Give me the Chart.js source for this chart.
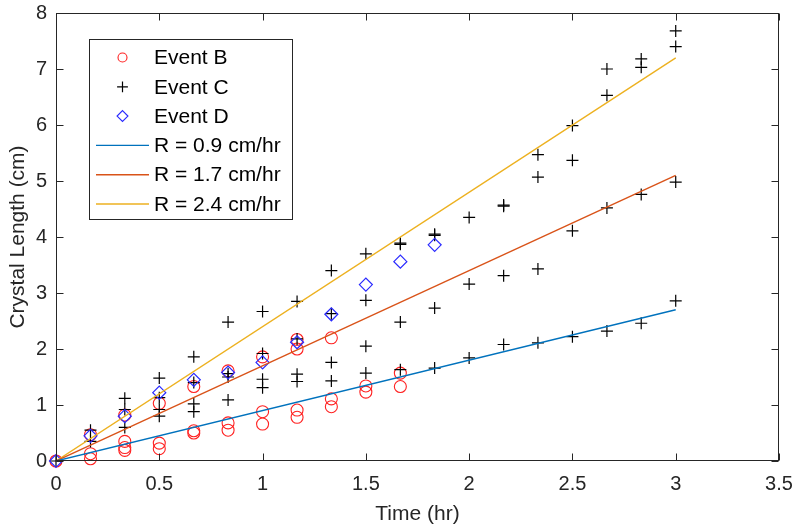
<!DOCTYPE html>
<html>
<head>
<meta charset="utf-8">
<title>Crystal Length vs Time</title>
<script src="https://cdn.jsdelivr.net/npm/chart.js@4.4.1/dist/chart.umd.min.js"></script>
<style>
  html, body { margin: 0; padding: 0; background: #fff; }
  #chart { display: block; }
</style>
</head>
<body>
<canvas id="chart" width="795" height="530"></canvas>
<script>
// sample times (hr), one entry per measurement step
const sampleTimes = [0, 0.167, 0.333, 0.5, 0.667, 0.833, 1, 1.167, 1.333, 1.5, 1.667, 1.833, 2, 2.167, 2.333, 2.5, 2.667, 2.833, 3];

// crystal lengths (cm) grouped by sample time index
const eventB = [
  [0], [0.47, 0.13, 0.04], [0.82, 0.35, 0.24, 0.19], [1.03, 0.32, 0.22],
  [1.33, 0.54, 0.50], [1.61, 0.68, 0.55], [1.86, 0.88, 0.66], [2.17, 2.0, 0.91, 0.78],
  [2.2, 1.11, 0.97], [1.34, 1.23], [1.57, 1.33]
];
const eventC = [
  [0], [0.55, 0.35], [1.12, 0.92, 0.6], [1.48, 1.13, 0.92, 0.8],
  [1.86, 1.40, 1.02, 0.88], [2.48, 1.56, 1.50, 1.09], [2.67, 1.92, 1.46, 1.31], [2.85, 2.18, 1.55, 1.42],
  [3.40, 2.63, 1.76, 1.43], [3.70, 2.87, 2.05, 1.57], [3.87, 3.89, 2.48, 1.63], [4.03, 4.05, 2.73, 1.66],
  [4.35, 3.16, 1.84], [4.55, 4.57, 3.31, 2.08], [5.47, 5.07, 3.43, 2.11], [5.99, 5.37, 4.11, 2.22],
  [7.0, 6.53, 4.52, 2.32], [7.18, 7.03, 4.76, 2.46], [7.68, 7.40, 4.98, 2.86]
];
const eventD = [0, 0.45, 0.8, 1.22, 1.45, 1.58, 1.76, 2.12, 2.62, 3.15, 3.56, 3.86];

// fitted growth lines
const fitTimes = [0, 3];
const fitSlow = [0, 2.7];
const fitMid = [0, 5.1];
const fitFast = [0, 7.2];
const fitLabels = ['R = 0.9 cm/hr', 'R = 1.7 cm/hr', 'R = 2.4 cm/hr'];

const xTicks = [0, 0.5, 1, 1.5, 2, 2.5, 3, 3.5];
const yTicks = [0, 1, 2, 3, 4, 5, 6, 7, 8];

const axisColor = '#262626';
const fontFamily = '"Liberation Sans", Arial, Helvetica, sans-serif';

function groupedPoints(groups) {
  const pts = [];
  groups.forEach((vals, i) => {
    vals.forEach(v => pts.push({ x: sampleTimes[i], y: v }));
  });
  return pts;
}

function linePoints(values) {
  return fitTimes.map((t, i) => ({ x: t, y: values[i] }));
}

function markerSet(label, data, style, color, width, radius, order) {
  return {
    label, data, order,
    showLine: false,
    clip: false,
    pointStyle: style,
    pointRadius: radius,
    pointBorderColor: color,
    pointBackgroundColor: 'rgba(0,0,0,0)',
    pointBorderWidth: width,
    borderColor: color,
    backgroundColor: 'rgba(0,0,0,0)'
  };
}

function fitSet(label, values, color) {
  return {
    label,
    data: linePoints(values),
    order: 0,
    showLine: true,
    pointRadius: 0,
    borderColor: color,
    backgroundColor: color,
    borderWidth: 1.4,
    fill: false
  };
}

// legend marker shapes (drawn small, like the reference legend)
function drawMarker(ctx, style, x, y, r) {
  ctx.beginPath();
  if (style === 'circle') {
    ctx.arc(x, y, r, 0, Math.PI * 2);
  } else if (style === 'cross') {
    ctx.moveTo(x - r, y); ctx.lineTo(x + r, y);
    ctx.moveTo(x, y - r); ctx.lineTo(x, y + r);
  } else if (style === 'rectRot') {
    ctx.moveTo(x, y - r); ctx.lineTo(x + r, y);
    ctx.lineTo(x, y + r); ctx.lineTo(x - r, y);
    ctx.closePath();
  }
  ctx.stroke();
}

// keep the plot box fixed: no extra room for edge labels
function fixPadding(s) {
  s.paddingLeft = 0; s.paddingRight = 0;
  s.paddingTop = 0; s.paddingBottom = 0;
}

const frameAndLegend = {
  id: 'frameAndLegend',
  afterDatasetsDraw(chart) {
    const { ctx, chartArea: a, scales } = chart;
    const L = Math.round(a.left) + 0.5, R = Math.round(a.right) - 0.5;
    const T = Math.round(a.top) + 0.5, B = Math.round(a.bottom) - 0.5;
    const tickLen = 7;

    ctx.save();
    ctx.strokeStyle = axisColor;
    ctx.lineWidth = 1;
    ctx.strokeRect(L, T, R - L, B - T);

    // inward ticks on all four sides
    ctx.beginPath();
    scales.x.ticks.forEach(t => {
      const px = Math.round(scales.x.getPixelForValue(t.value)) + 0.5;
      ctx.moveTo(px, B); ctx.lineTo(px, B - tickLen);
      ctx.moveTo(px, T); ctx.lineTo(px, T + tickLen);
    });
    scales.y.ticks.forEach(t => {
      const py = Math.round(scales.y.getPixelForValue(t.value)) + 0.5;
      ctx.moveTo(L, py); ctx.lineTo(L + tickLen, py);
      ctx.moveTo(R, py); ctx.lineTo(R - tickLen, py);
    });
    ctx.stroke();

    // legend box
    const box = { x: 89.5, y: 39.5, w: 203, h: 180 };
    ctx.fillStyle = '#fff';
    ctx.fillRect(box.x, box.y, box.w, box.h);
    ctx.strokeRect(box.x, box.y, box.w, box.h);

    ctx.font = '21px ' + fontFamily;
    ctx.textBaseline = 'middle';
    ctx.textAlign = 'left';
    chart.data.datasets.forEach((ds, i) => {
      const rowY = 57.5 + i * 29.3;
      if (ds.showLine) {
        ctx.strokeStyle = ds.borderColor;
        ctx.lineWidth = 1.4;
        ctx.beginPath();
        ctx.moveTo(96, rowY); ctx.lineTo(149, rowY);
        ctx.stroke();
      } else {
        ctx.strokeStyle = ds.pointBorderColor;
        ctx.lineWidth = ds.pointBorderWidth;
        const r = ds.pointStyle === 'circle' ? 4.5 : 5.4;
        drawMarker(ctx, ds.pointStyle, 122.5, rowY, r);
      }
      ctx.fillStyle = '#000';
      ctx.fillText(ds.label, 154, rowY + 1);
    });
    ctx.restore();
  }
};

Chart.defaults.font.family = fontFamily;
Chart.defaults.color = axisColor;

new Chart(document.getElementById('chart'), {
  type: 'scatter',
  data: {
    datasets: [
      markerSet('Event B', groupedPoints(eventB), 'circle', '#ff2020', 1.1, 6, 3),
      markerSet('Event C', groupedPoints(eventC), 'cross', '#000000', 1.2, 6, 2),
      markerSet('Event D', eventD.map((v, i) => ({ x: sampleTimes[i], y: v })), 'rectRot', '#2a2aff', 1.2, 6.5, 1),
      fitSet(fitLabels[0], fitSlow, '#0072bd'),
      fitSet(fitLabels[1], fitMid, '#d95319'),
      fitSet(fitLabels[2], fitFast, '#edb120')
    ]
  },
  options: {
    responsive: false,
    animation: false,
    events: [],
    layout: { padding: { top: 13, right: 16, left: 0, bottom: 0 } },
    plugins: {
      legend: { display: false },
      tooltip: { enabled: false },
      colors: { enabled: false }
    },
    scales: {
      x: {
        type: 'linear',
        min: xTicks[0],
        max: xTicks[xTicks.length - 1],
        afterBuildTicks: s => { s.ticks = xTicks.map(v => ({ value: v })); },
        afterFit: s => { s.height = 69; fixPadding(s); },
        grid: { display: false, drawTicks: false },
        border: { display: false },
        ticks: {
          autoSkip: false,
          maxRotation: 0,
          padding: 11,
          font: { size: 20 },
          color: axisColor,
          callback: v => String(v)
        },
        title: {
          display: true,
          text: 'Time (hr)',
          font: { size: 21 },
          color: axisColor,
          padding: { top: 0, bottom: 3 }
        }
      },
      y: {
        type: 'linear',
        min: yTicks[0],
        max: yTicks[yTicks.length - 1],
        afterBuildTicks: s => { s.ticks = yTicks.map(v => ({ value: v })); },
        afterFit: s => { s.width = 56; fixPadding(s); },
        grid: { display: false, drawTicks: false },
        border: { display: false },
        ticks: {
          autoSkip: false,
          padding: 9,
          font: { size: 20 },
          color: axisColor,
          callback: v => String(v)
        },
        title: {
          display: true,
          text: 'Crystal Length (cm)',
          font: { size: 21 },
          color: axisColor,
          padding: { top: 6, bottom: 0 }
        }
      }
    }
  },
  plugins: [frameAndLegend]
});
</script>
</body>
</html>
